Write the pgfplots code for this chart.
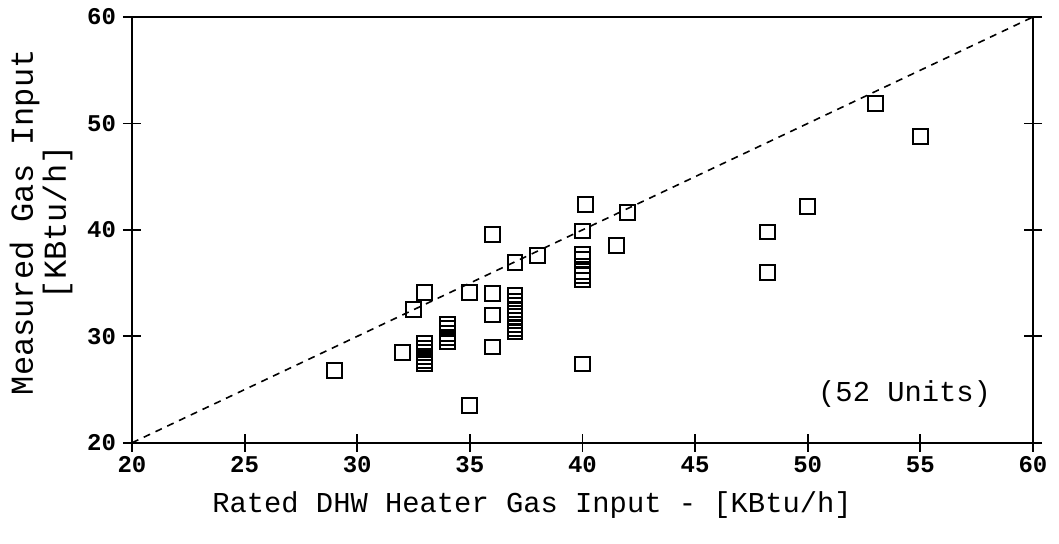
\documentclass[border=0pt]{standalone}
\usepackage{fontspec}
\setmainfont{Liberation Mono}
\usepackage{pgfplots}
\pgfplotsset{compat=1.18}
\usetikzlibrary{calc}
\begin{document}
\begin{tikzpicture}
\begin{axis}[
  name=ax,
  scale only axis,
  width=450.5pt, height=212.9pt,
  xmin=20, xmax=60, ymin=20, ymax=60,
  xtick={20,25,...,60}, ytick={20,30,...,60},
  xtick pos=bottom, ytick pos=both,
  yticklabel pos=left,
  tick align=center,
  major tick length=9pt,
  axis line style={line width=1pt},
  every tick/.style={black, line width=0.9pt},
  /pgf/number format/assume math mode=true,
  ticklabel style={font=\bfseries\fontsize{12}{12}\selectfont},
  xticklabel style={yshift=1pt},
  xlabel={Rated DHW Heater Gas Input - [KBtu/h]},
  ylabel={Measured Gas Input\\{[KBtu/h]}},
  xlabel style={font=\fontsize{14.4}{17.5}\selectfont, at={(axis description cs:0.444,0)}, anchor=center, yshift=-31pt},
  ylabel style={font=\fontsize{16}{16.5}\selectfont, align=center, at={(axis description cs:-0.101,0.518)}, anchor=center},
  clip=false,
]
\addplot[black, line width=0.8pt, dash pattern=on 3.5pt off 3pt] coordinates {(20,20) (60,60)};
\addplot[only marks, mark=square, mark size=3.7pt, mark options={black, line width=1pt, fill=none}] coordinates {
(29,26.8) (32,28.5) (32.5,32.5) (33,34.1)
(33,29.3) (33,28.9) (33,28.5) (33,28.1) (33,27.7) (33,27.4)
(34,31.1) (34,30.7) (34,30.3) (34,29.9) (34,29.5)
(35,34.1) (35,23.5)
(36,39.6) (36,34.0) (36,32.0) (36,29.0)
(37,36.9)
(37,33.8) (37,33.3) (37,32.9) (37,32.5) (37,32.2) (37,31.9) (37,31.5) (37,31.1) (37,30.7) (37,30.4)
(38,37.6)
(40.15,42.4) (40,39.9)
(40,37.7) (40,37.2) (40,36.6) (40,36.1) (40,35.7) (40,35.3)
(40,27.4)
(41.5,38.5) (42,41.6)
(48.2,39.8) (48.2,36.0)
(50,42.2) (53,51.9) (55,48.8)
};
\node[font=\fontsize{14.4}{17.5}\selectfont] at (axis cs:54.3,24.6) {(52 Units)};
\end{axis}
\pgfresetboundingbox
\path ($(ax.south west)+(-66pt,-50.6pt)$) rectangle ($(ax.north east)+(13pt,8.5pt)$);
\end{tikzpicture}
\end{document}
